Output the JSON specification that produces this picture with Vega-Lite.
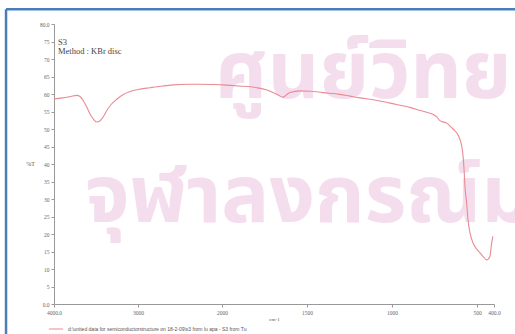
{
  "$schema": "https://vega.github.io/schema/vega-lite/v6.json",
  "width": 440,
  "height": 280,
  "autosize": {"type": "none"},
  "padding": {"left": 54, "top": 24, "right": 21, "bottom": 30},
  "background": "white",
  "config": {
    "view": {"stroke": null},
    "font": "Liberation Serif"
  },
  "datasets": {
    "spectrum": [
      {"wn": 4000, "t": 58.6}, {"wn": 3900, "t": 58.9}, {"wn": 3800, "t": 59.3},
      {"wn": 3730, "t": 59.6}, {"wn": 3690, "t": 59.3}, {"wn": 3655, "t": 58.2},
      {"wn": 3610, "t": 56.3}, {"wn": 3571, "t": 54.3}, {"wn": 3530, "t": 52.8},
      {"wn": 3492, "t": 52.0}, {"wn": 3460, "t": 52.2}, {"wn": 3432, "t": 52.9},
      {"wn": 3400, "t": 54.0}, {"wn": 3373, "t": 55.2}, {"wn": 3320, "t": 57.0},
      {"wn": 3254, "t": 58.5}, {"wn": 3180, "t": 59.8}, {"wn": 3095, "t": 60.7},
      {"wn": 3000, "t": 61.3}, {"wn": 2857, "t": 61.8}, {"wn": 2700, "t": 62.3},
      {"wn": 2583, "t": 62.6}, {"wn": 2400, "t": 62.8}, {"wn": 2262, "t": 62.8},
      {"wn": 2100, "t": 62.7}, {"wn": 1994, "t": 62.6}, {"wn": 1900, "t": 62.3},
      {"wn": 1794, "t": 61.8}, {"wn": 1740, "t": 61.2}, {"wn": 1700, "t": 60.4},
      {"wn": 1670, "t": 59.7}, {"wn": 1641, "t": 59.1}, {"wn": 1620, "t": 59.8},
      {"wn": 1600, "t": 60.4}, {"wn": 1541, "t": 60.9}, {"wn": 1480, "t": 60.8},
      {"wn": 1406, "t": 60.4}, {"wn": 1306, "t": 59.9}, {"wn": 1247, "t": 59.4},
      {"wn": 1188, "t": 58.9}, {"wn": 1130, "t": 58.5}, {"wn": 1071, "t": 58.0},
      {"wn": 1010, "t": 57.4}, {"wn": 953, "t": 56.8}, {"wn": 890, "t": 56.1},
      {"wn": 835, "t": 55.3}, {"wn": 790, "t": 54.7}, {"wn": 759, "t": 54.2},
      {"wn": 735, "t": 53.4}, {"wn": 718, "t": 52.4}, {"wn": 676, "t": 51.6},
      {"wn": 641, "t": 50.0}, {"wn": 618, "t": 48.8}, {"wn": 600, "t": 47.0},
      {"wn": 584, "t": 43.3}, {"wn": 576, "t": 38.4}, {"wn": 571, "t": 33.6},
      {"wn": 561, "t": 28.9}, {"wn": 553, "t": 24.1}, {"wn": 541, "t": 20.3},
      {"wn": 524, "t": 17.5}, {"wn": 500, "t": 15.6}, {"wn": 482, "t": 14.6},
      {"wn": 460, "t": 13.3}, {"wn": 443, "t": 12.6}, {"wn": 424, "t": 13.6},
      {"wn": 414, "t": 17.4}, {"wn": 406, "t": 19.3}
    ],
    "watermark": [
      {"wn": 2083, "t": 59.0, "text": "ศูนย์วิทยทรัพยากร"},
      {"wn": 3631, "t": 23.5, "text": "จุฬาลงกรณ์มหาวิทยาลัย"}
    ],
    "notes": [
      {"wn": 3952, "t": 75.0, "text": "S3"},
      {"wn": 3952, "t": 72.4, "text": "Method : KBr disc"}
    ],
    "frame": [
      {"x1": 4571, "x2": 4571, "y1": 84.2, "y2": -9.0},
      {"x1": 4571, "x2": 276, "y1": 84.2, "y2": 84.2}
    ]
  },
  "encoding": {
    "x": {
      "field": "wn",
      "type": "quantitative",
      "scale": {"domain": [4000, 2000, 400], "range": [0, 168, 440], "zero": false, "nice": false},
      "axis": {
        "values": [4000, 3000, 2000, 1500, 1000, 500, 400],
        "labelExpr": "datum.value == 4000 ? '4000.0' : datum.value == 400 ? '400.0' : format(datum.value, 'd')",
        "labelOverlap": false, "labelFlush": false,
        "title": "cm-1", "titleFontSize": 5, "titleFontWeight": "normal", "titleColor": "#555",
        "titlePadding": 1,
        "labelFontSize": 5.5, "labelColor": "#666", "labelPadding": 3,
        "domainColor": "#999", "tickColor": "#999", "tickSize": 3, "grid": false
      }
    },
    "y": {
      "field": "t",
      "type": "quantitative",
      "scale": {"domain": [0, 80], "zero": false, "nice": false},
      "axis": {
        "values": [0, 5, 10, 15, 20, 25, 30, 35, 40, 45, 50, 55, 60, 65, 70, 75, 80],
        "labelExpr": "datum.value == 0 ? '0.0' : datum.value == 80 ? '80.0' : format(datum.value, 'd')",
        "labelOverlap": false, "labelFlush": false,
        "title": "%T", "titleAngle": 0, "titleFontSize": 6, "titleFontWeight": "normal",
        "titleColor": "#555", "titleX": -24, "titleY": 142,
        "labelFontSize": 5.5, "labelColor": "#666", "labelPadding": 2,
        "domainColor": "#999", "tickColor": "#999", "tickSize": 3, "grid": false
      }
    }
  },
  "layer": [
    {
      "data": {"name": "watermark"},
      "mark": {"type": "text", "align": "left", "baseline": "alphabetic", "fontSize": 80,
               "fontWeight": "bold",
               "font": "Noto Sans Thai, Noto Sans, sans-serif", "color": "#f4deee", "clip": false},
      "encoding": {"text": {"field": "text"}}
    },
    {
      "data": {"name": "spectrum"},
      "mark": {"type": "line", "strokeWidth": 1.1, "interpolate": "monotone"},
      "encoding": {
        "color": {
          "datum": "d:\\united data for semiconductorstructure on 18-2-09\\s3 from lu apa - S3 from Tu",
          "type": "nominal",
          "scale": {"range": ["#ea8a92"]},
          "legend": {
            "orient": "none", "legendX": -6, "legendY": 297, "title": null,
            "symbolType": "stroke", "symbolSize": 200, "symbolStrokeWidth": 1,
            "labelFontSize": 5, "labelColor": "#555", "labelFont": "Liberation Sans",
            "labelLimit": 0
          }
        }
      }
    },
    {
      "data": {"name": "notes"},
      "mark": {"type": "text", "align": "left", "baseline": "middle", "fontSize": 8.5,
               "font": "Liberation Serif", "color": "#444"},
      "encoding": {"text": {"field": "text"}}
    },
    {
      "data": {"name": "frame"},
      "mark": {"type": "rule", "color": "#4a7ebb", "strokeWidth": 2.5, "clip": false},
      "encoding": {
        "x": {"field": "x1", "type": "quantitative"},
        "x2": {"field": "x2"},
        "y": {"field": "y1", "type": "quantitative"},
        "y2": {"field": "y2"}
      }
    }
  ]
}
